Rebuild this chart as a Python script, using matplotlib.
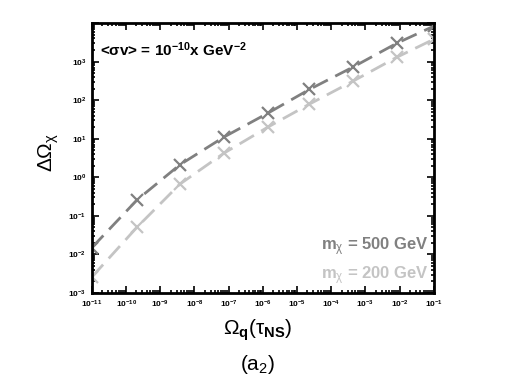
import numpy as np
import matplotlib
matplotlib.use("Agg")
import matplotlib.pyplot as plt
from matplotlib.ticker import LogLocator, NullFormatter

plt.rcParams['font.family'] = ['Liberation Sans', 'DejaVu Sans']
plt.rcParams['mathtext.fontset'] = 'custom'
plt.rcParams['mathtext.rm'] = 'Liberation Sans'
plt.rcParams['mathtext.it'] = 'Liberation Sans'
plt.rcParams['mathtext.bf'] = 'Liberation Sans:bold'

# data
omega_q = [1e-11, 2.1e-10, 3.7e-9, 7.2e-8, 1.4e-6, 2.3e-5, 4.3e-4, 8.3e-3, 1e-1]
d_omega_500 = [1.5e-2, 0.26, 2.1, 11, 46, 190, 720, 3000, 8300]
d_omega_200 = [2.6e-3, 0.051, 0.66, 4.2, 20, 79, 310, 1300, 3800]

dark = '#808080'
light = '#c4c4c4'

fig = plt.figure(figsize=(5.05, 3.78), dpi=100)
ax = fig.add_axes([0.182, 0.225, 0.677, 0.714])

ax.plot(omega_q, d_omega_500, color=dark, lw=2, dashes=(6, 3),
        marker='x', ms=8, mew=1.6)
ax.plot(omega_q, d_omega_200, color=light, lw=2, dashes=(6, 3),
        marker='x', ms=8, mew=1.6)

ax.set_xscale('log')
ax.set_yscale('log')
ax.set_xlim(1e-11, 1e-1)
ax.set_ylim(1e-3, 1e4)

xt = [10.0**k for k in range(-11, 0)]
ax.set_xticks(xt)
ax.set_xticklabels([r'$\mathbf{10^{%d}}$' % k for k in range(-11, 0)])
yt = [10.0**k for k in range(-3, 5)]
ax.set_yticks(yt)
ax.set_yticklabels([r'$\mathbf{10^{%d}}$' % k for k in range(-3, 4)] + [''])
ax.xaxis.set_minor_locator(LogLocator(base=10, subs=np.arange(2, 10), numticks=50))
ax.yaxis.set_minor_locator(LogLocator(base=10, subs=np.arange(2, 10), numticks=50))
ax.xaxis.set_minor_formatter(NullFormatter())
ax.yaxis.set_minor_formatter(NullFormatter())

ax.tick_params(which='both', direction='in', top=True, right=True, width=1.2)
ax.tick_params(which='major', length=5, labelsize=6, pad=4)
ax.tick_params(which='minor', length=2.5)
for s in ax.spines.values():
    s.set_linewidth(2)

ax.text(0.025, 0.935, r'<$\mathbf{\sigma}$v> = 10$^{\mathbf{-10}}$x GeV$^{\mathbf{-2}}$',
        transform=ax.transAxes, fontsize=11, fontweight='bold', va='top')
ax.text(0.985, 0.17, r'm$_{\chi}$ = 500 GeV', transform=ax.transAxes,
        fontsize=12, fontweight='bold', color=dark, ha='right', va='center')
ax.text(0.985, 0.065, r'm$_{\chi}$ = 200 GeV', transform=ax.transAxes,
        fontsize=12, fontweight='bold', color=light, ha='right', va='center')

fig.text(0.097, 0.598, r'$\Delta\Omega_{\chi}$', fontsize=15, rotation=90,
         ha='center', va='center')
fig.text(0.51, 0.127, r'$\Omega_{\mathbf{q}}$($\tau_{\mathbf{NS}}$)', fontsize=15,
         ha='center', va='center')
fig.text(0.51, 0.035, r'(a$_2$)', fontsize=15, ha='center', va='center')

fig.savefig('out.png', dpi=100)
